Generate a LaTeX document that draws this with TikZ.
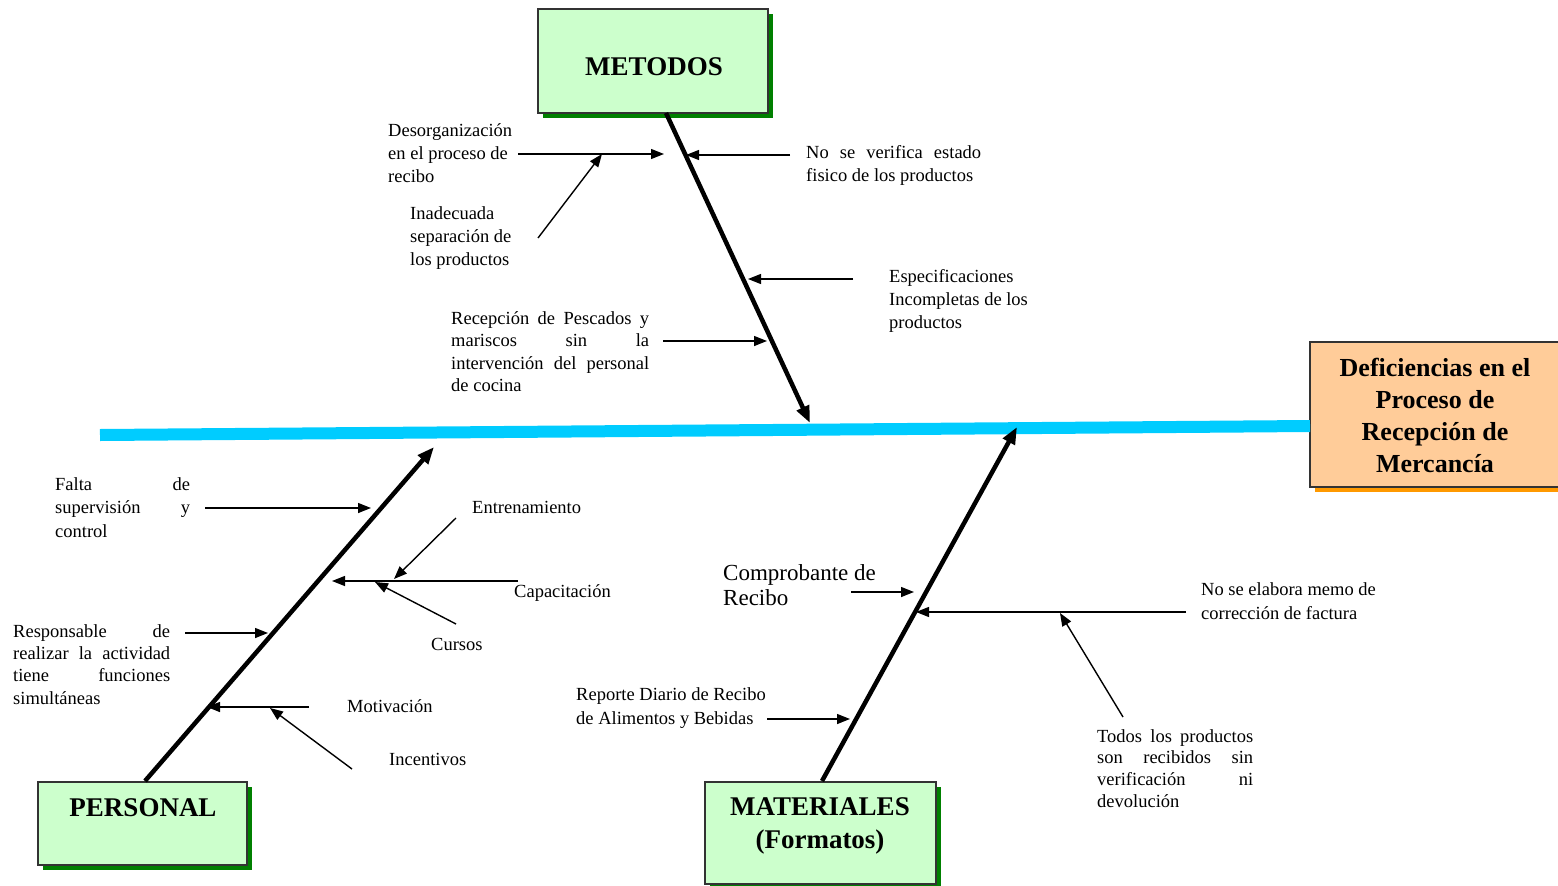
\documentclass[tikz,border=0pt]{standalone}
\usepackage{fontspec}
\setmainfont{Liberation Serif}
\usetikzlibrary{arrows.meta,shadows}
\definecolor{spinecol}{HTML}{00CCFF}
\definecolor{boxgreen}{HTML}{CCFFCC}
\definecolor{shadowgreen}{HTML}{008000}
\definecolor{effectfill}{HTML}{FFCC99}
\definecolor{effectshadow}{HTML}{FF9900}
\definecolor{edgegray}{HTML}{333333}
% one justified line of a given width
\newcommand{\jrow}[2]{\makebox[#1][s]{#2}}
\begin{document}
\begin{tikzpicture}[x=1pt,y=-1pt,
  lbl/.style={anchor=base west, inner sep=0pt, font=\fontsize{18.5}{23}\selectfont},
  biglbl/.style={anchor=base west, inner sep=0pt, font=\fontsize{23}{25}\selectfont},
  title/.style={inner sep=0pt, font=\fontsize{27}{33}\selectfont\bfseries, align=center},
  catbox/.style={draw=edgegray, line width=1.5pt, fill=boxgreen,
    drop shadow={shadow xshift=5pt, shadow yshift=-5pt, fill=shadowgreen, opacity=1}},
  effectbox/.style={draw=edgegray, line width=1.5pt, fill=effectfill,
    drop shadow={shadow xshift=5pt, shadow yshift=-5pt, fill=effectshadow, opacity=1}},
  spine/.style={line width=12pt, draw=spinecol},
  bone/.style={line width=4.5pt, -{Triangle[length=17pt,width=13pt]}},
  twig/.style={line width=1.4pt, -{Triangle[length=13pt,width=10pt]}}
]
\useasboundingbox (0,0) rectangle (1558,886);
\clip (0,0) rectangle (1558,886);

% ---- effect and category boxes ----
\node[effectbox, minimum width=262pt, minimum height=145pt] (effect) at (1441,414.5) {};
\node[title, font=\fontsize{26}{32}\selectfont\bfseries] (effecttxt) at (1435,415)
  {Deficiencias en el\\Proceso de\\Recepción de\\Mercancía};

\node[catbox, minimum width=230pt, minimum height=104pt] (metodos) at (653,61) {};
\node[title] (metodostxt) at (654,67) {METODOS};

\node[catbox, minimum width=209pt, minimum height=83pt] (personal) at (142.5,823.5) {};
\node[title] (personaltxt) at (143,808) {PERSONAL};

\node[catbox, minimum width=231pt, minimum height=102pt] (materiales) at (820.5,833) {};
\node[title] (materialestxt) at (820,826) {MATERIALES\\(Formatos)};

% ---- spine ----
\coordinate (spineL) at (100,435);
\coordinate (spineR) at (1310,426);
\draw[spine] (spineL) -- (spineR);

% ---- main bones ----
\coordinate (mA) at (666,113);  \coordinate (mB) at (810,423);
\coordinate (pA) at (145,781);  \coordinate (pB) at (434,447);
\coordinate (tA) at (822,781);  \coordinate (tB) at (1017,427);
\draw[bone] (mA) -- (mB);
\draw[bone] (pA) -- (pB);
\draw[bone] (tA) -- (tB);

% ---- METODOS causes ----
\node[lbl] (desorg) at (388,136) {\parbox[t]{140pt}{Desorganización\\en el proceso de\\recibo}};
\coordinate (desorgS) at (518,154); \coordinate (desorgT) at (664,154);
\draw[twig] (desorgS) -- (desorgT);

\node[lbl] (inadec) at (410,219) {\parbox[t]{120pt}{Inadecuada\\separación de\\los productos}};
\coordinate (inadecS) at (538,238); \coordinate (inadecT) at (602,154);
\draw[twig] (inadecS) -- (inadecT);

\node[lbl] (noverif) at (806,158) {\parbox[t]{175pt}{\jrow{175pt}{No se verifica estado}\\fisico de los productos}};
\coordinate (noverifS) at (790,155); \coordinate (noverifT) at (686,155);
\draw[twig] (noverifS) -- (noverifT);

\node[lbl] (especif) at (889,282) {\parbox[t]{150pt}{Especificaciones\\Incompletas de los\\productos}};
\coordinate (especifS) at (853,279); \coordinate (especifT) at (748,279);
\draw[twig] (especifS) -- (especifT);

\node[lbl, font=\fontsize{18.5}{22.5}\selectfont] (recep) at (451,324) {\parbox[t]{198pt}{\jrow{198pt}{Recepción de Pescados y}\\\jrow{198pt}{mariscos sin la}\\\jrow{198pt}{intervención del personal}\\de cocina}};
\coordinate (recepS) at (663,341); \coordinate (recepT) at (767,341);
\draw[twig] (recepS) -- (recepT);

% ---- PERSONAL causes ----
\node[lbl, font=\fontsize{18.5}{23.5}\selectfont] (falta) at (55,490) {\parbox[t]{135pt}{\jrow{135pt}{Falta de}\\\jrow{135pt}{supervisión y}\\control}};
\coordinate (faltaS) at (205,508); \coordinate (faltaT) at (371,508);
\draw[twig] (faltaS) -- (faltaT);

\node[lbl, font=\fontsize{18.5}{22.4}\selectfont] (respons) at (13,637) {\parbox[t]{157pt}{\jrow{157pt}{Responsable de}\\\jrow{157pt}{realizar la actividad}\\\jrow{157pt}{tiene funciones}\\simultáneas}};
\coordinate (responsS) at (185,633); \coordinate (responsT) at (268,633);
\draw[twig] (responsS) -- (responsT);

\node[lbl] (capac) at (514,597) {Capacitación};
\coordinate (capacS) at (518,581); \coordinate (capacT) at (332,581);
\draw[twig] (capacS) -- (capacT);

\node[lbl] (entren) at (472,513) {Entrenamiento};
\coordinate (entrenS) at (456,518); \coordinate (entrenT) at (394,579);
\draw[twig] (entrenS) -- (entrenT);

\node[lbl] (cursos) at (431,650) {Cursos};
\coordinate (cursosS) at (456,624); \coordinate (cursosT) at (375,582);
\draw[twig] (cursosS) -- (cursosT);

\node[lbl] (motiv) at (347,712) {Motivación};
\coordinate (motivS) at (309,707); \coordinate (motivT) at (207,707);
\draw[twig] (motivS) -- (motivT);

\node[lbl] (incent) at (389,765) {Incentivos};
\coordinate (incentS) at (352,769); \coordinate (incentT) at (270,708);
\draw[twig] (incentS) -- (incentT);

% ---- MATERIALES causes ----
\node[biglbl] (comprob) at (723,580) {\parbox[t]{170pt}{Comprobante de\\Recibo}};
\coordinate (comprobS) at (851,592); \coordinate (comprobT) at (914,592);
\draw[twig] (comprobS) -- (comprobT);

\node[lbl, font=\fontsize{18.5}{24}\selectfont] (reporte) at (576,700) {\parbox[t]{200pt}{Reporte Diario de Recibo\\de Alimentos y Bebidas}};
\coordinate (reporteS) at (767,719); \coordinate (reporteT) at (850,719);
\draw[twig] (reporteS) -- (reporteT);

\node[lbl, font=\fontsize{18.5}{24}\selectfont] (memo) at (1201,595) {\parbox[t]{190pt}{No se elabora memo de\\corrección de factura}};
\coordinate (memoS) at (1186,612); \coordinate (memoT) at (916,612);
\draw[twig] (memoS) -- (memoT);

\node[lbl, font=\fontsize{18.5}{21.7}\selectfont] (todos) at (1097,742) {\parbox[t]{156pt}{\jrow{156pt}{Todos los productos}\\\jrow{156pt}{son recibidos sin}\\\jrow{156pt}{verificación ni}\\devolución}};
\coordinate (todosS) at (1123,717); \coordinate (todosT) at (1060,613);
\draw[twig] (todosS) -- (todosT);
\end{tikzpicture}
\end{document}
